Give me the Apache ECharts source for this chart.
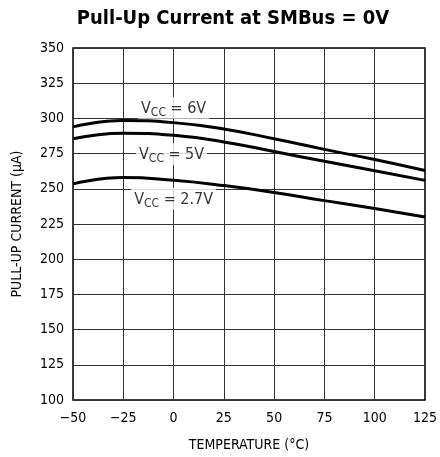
<!DOCTYPE html>
<html>
<head>
<meta charset="utf-8">
<script src="https://cdn.jsdelivr.net/npm/echarts@6/dist/echarts.min.js"></script>
<style>html,body{margin:0;padding:0;background:#fff}#c{width:440px;height:457px}</style>
</head>
<body>
<div id="c"></div>
<script>
var temps = [-50, -25, 0, 25, 50, 75, 100, 125];
var vcc6 = [294, 298.5, 297, 292.5, 285.5, 278, 270.8, 263];
var vcc5 = [285.5, 289.5, 288, 283.3, 276.5, 269.5, 262.8, 256];
var vcc27 = [253.5, 258, 256, 252.3, 247.4, 241.6, 236, 230];
var yTicks = [100, 125, 150, 175, 200, 225, 250, 275, 300, 325, 350];
var xTicks = [-50, -25, 0, 25, 50, 75, 100, 125];
var curveNames = ['6V', '5V', '2.7V'];
var labelAt = [[0, 307.5], [-1, 274.5], [0, 243]];

var FONT = '"Liberation Sans Narrow","DejaVu Sans Condensed","Liberation Sans",sans-serif';
function pairs(v){ return temps.map(function(t,i){ return [t, v[i]]; }); }
function lineSeries(v){
  return { type:'line', data:pairs(v), smooth:0.5, showSymbol:false, symbol:'none',
    lineStyle:{color:'#000', width:3}, z:3 };
}
var chart = echarts.init(document.getElementById('c'), null, {renderer:'canvas'});
chart.setOption({
  animation:false,
  backgroundColor:'#fff',
  title:{ text:'Pull-Up Current at SMBus = 0V', left:228, textAlign:'center', top:4,
    textStyle:{ fontFamily:FONT, fontWeight:'bold', fontSize:20, color:'#000' } },
  grid:{ left:73, right:15, top:48, bottom:57, show:true, borderColor:'#000', borderWidth:1.5 },
  xAxis:{ type:'value', min:-50, max:125, interval:25,
    name:'TEMPERATURE (°C)', nameLocation:'middle', nameGap:38,
    nameTextStyle:{ fontFamily:FONT, fontSize:14, color:'#000' },
    axisLine:{show:false}, axisTick:{show:false},
    axisLabel:{ fontFamily:FONT, fontSize:14, color:'#000', margin:11,
      formatter:function(v){ return String(v).replace('-', '\u2212'); } },
    splitLine:{ show:true, lineStyle:{color:'#333', width:1} } },
  yAxis:{ type:'value', min:100, max:350, interval:25,
    name:'PULL-UP CURRENT (\u03bcA)', nameLocation:'middle', nameGap:49,
    nameTextStyle:{ fontFamily:FONT, fontSize:14, color:'#000' },
    axisLine:{show:false}, axisTick:{show:false},
    axisLabel:{ fontFamily:FONT, fontSize:14, color:'#000', margin:9 },
    splitLine:{ show:true, lineStyle:{color:'#333', width:1} } },
  series:[
    lineSeries(vcc6), lineSeries(vcc5), lineSeries(vcc27),
    { type:'scatter', symbolSize:0, z:5,
      data: labelAt.map(function(p,i){ return { value:p, name:curveNames[i] }; }),
      label:{ show:true, position:'inside', backgroundColor:'#fff', padding:[2,3,0,3],
        formatter:function(p){ return '{v|V}{s|CC}{v| = ' + p.name + '}'; },
        rich:{
          v:{ fontFamily:FONT, fontSize:16, color:'#000', lineHeight:20 },
          s:{ fontFamily:FONT, fontSize:12, color:'#000', lineHeight:20, padding:[8,0,0,0] }
        } } }
  ]
});
</script>
</body>
</html>
